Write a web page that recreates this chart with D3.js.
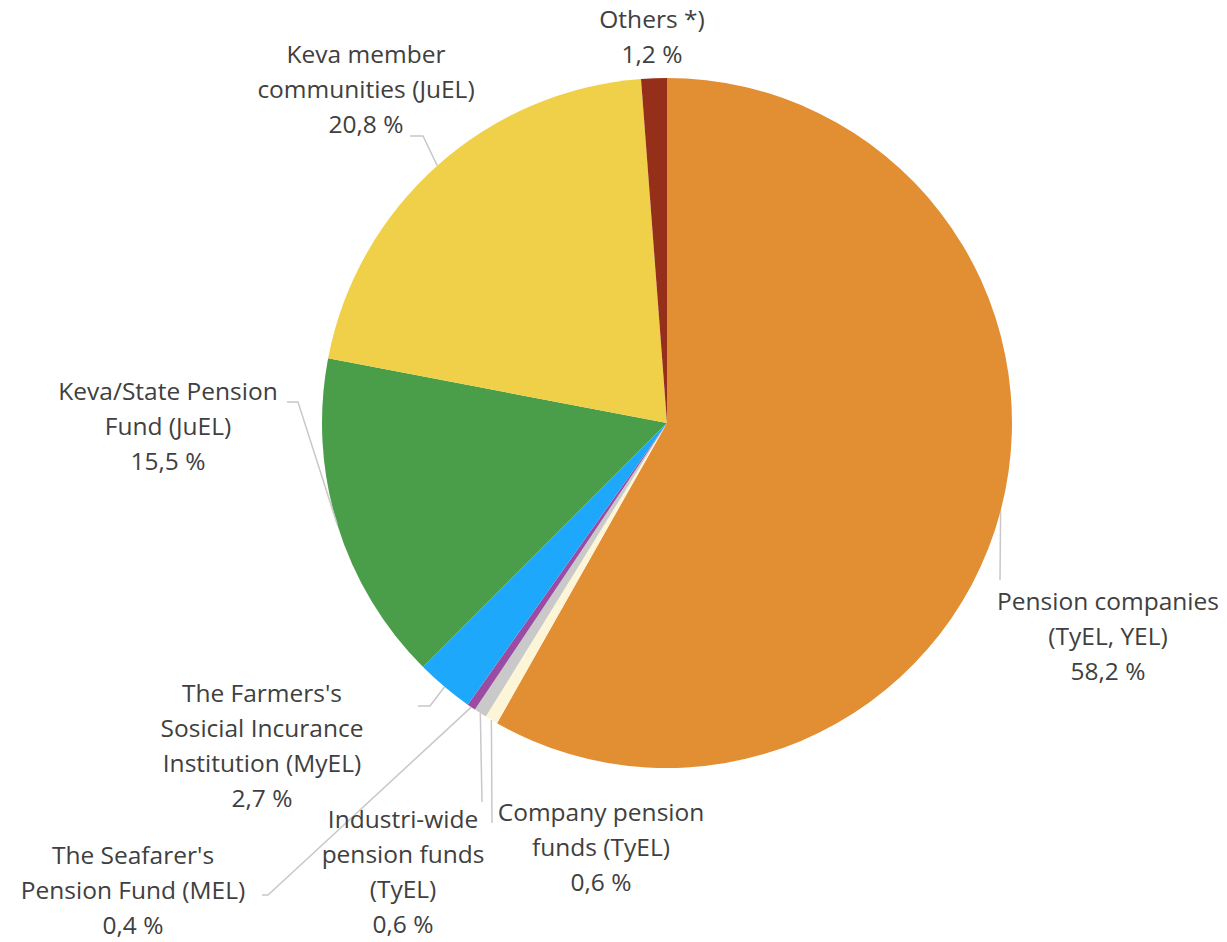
<!DOCTYPE html>
<html>
<head>
<meta charset="utf-8">
<script src="https://cdn.jsdelivr.net/npm/d3@7"></script>
<style>
  body { margin: 0; background: #fff; }
  svg text { font-family: "Open Sans", "Noto Sans", sans-serif; }
</style>
</head>
<body>
<div class="container"></div>
<script>
// data
const categories = [
  "Pension companies (TyEL, YEL)",
  "Company pension funds (TyEL)",
  "Industri-wide pension funds (TyEL)",
  "The Seafarer's Pension Fund (MEL)",
  "The Farmers's Sosicial Incurance Institution (MyEL)",
  "Keva/State Pension Fund (JuEL)",
  "Keva member communities (JuEL)",
  "Others *)",
];
const values = [58.2, 0.6, 0.6, 0.4, 2.7, 15.5, 20.8, 1.2];
const labelLines = [
  ["Pension companies", "(TyEL, YEL)"],
  ["Company pension", "funds (TyEL)"],
  ["Industri-wide", "pension funds", "(TyEL)"],
  ["The Seafarer's", "Pension Fund (MEL)"],
  ["The Farmers's", "Sosicial Incurance", "Institution (MyEL)"],
  ["Keva/State Pension", "Fund (JuEL)"],
  ["Keva member", "communities (JuEL)"],
  ["Others *)"],
];
const colors = ["#E28E33", "#FDF5D8", "#C9C9C9", "#9C4BA3", "#1EA8FB", "#4A9E4A", "#F0D048", "#962F1A"];

// label layout: text centre x, first line y, leader points after the arc point
const layout = [
  { x: 1108, y: 603, leader: [[1000, 580]] },
  { x: 601, y: 814, leader: [[492, 823]] },
  { x: 403, y: 821, leader: [[482, 802]] },
  { x: 133, y: 857, leader: [[268, 895], [262, 895]] },
  { x: 262, y: 695, leader: [[430, 706], [418, 706]] },
  { x: 168, y: 393, leader: [[298, 402], [287, 402]] },
  { x: 366, y: 56, leader: [[423, 136], [410, 136]] },
  { x: 652, y: 21, leader: [] },
];

const width = 1227;
const height = 942;
const cx = 667;
const cy = 423;
const radius = 345;
const lineH = 35;

const fmt = (v) => d3.format(".1f")(v).replace(".", ",") + " %";

const data = categories.map((c, i) => ({ name: c, value: values[i], i }));

const svg = d3.select(".container")
  .append("svg")
  .attr("width", width)
  .attr("height", height);

const pie = d3.pie().sort(null).value((d) => d.value);
const arcs = pie(data);
const arc = d3.arc().innerRadius(0).outerRadius(radius);

const g = svg.append("g").attr("transform", `translate(${cx},${cy})`);

// leaders first so slices sit above
const leaders = svg.append("g");
arcs.forEach((a) => {
  const pts = layout[a.data.i].leader;
  if (!pts.length) return;
  const mid = (a.startAngle + a.endAngle) / 2;
  const p0 = [cx + radius * Math.sin(mid), cy - radius * Math.cos(mid)];
  leaders.append("path")
    .attr("d", d3.line()([p0, ...pts]))
    .attr("fill", "none")
    .attr("stroke", "#c8c8c8")
    .attr("stroke-width", 1.5);
});

g.selectAll("path")
  .data(arcs)
  .join("path")
  .attr("d", arc)
  .attr("fill", (d) => colors[d.data.i]);

// labels
const labels = svg.append("g");
data.forEach((d) => {
  const l = layout[d.i];
  const lines = [...labelLines[d.i], fmt(d.value)];
  const t = labels.append("text")
    .attr("text-anchor", "middle")
    .attr("fill", "#404040")
    .attr("font-size", 24.5);
  lines.forEach((s, k) => {
    t.append("tspan")
      .attr("x", l.x)
      .attr("y", l.y + k * lineH)
      .attr("dominant-baseline", "middle")
      .text(s);
  });
});
</script>
</body>
</html>
